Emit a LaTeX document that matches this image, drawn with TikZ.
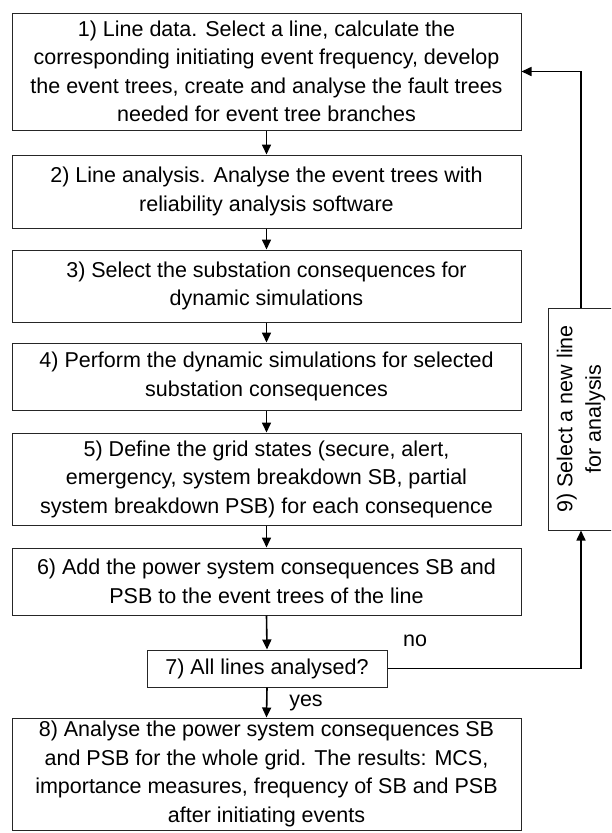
\documentclass[tikz,border=0pt]{standalone}
\usepackage{fontspec}
\setmainfont{Liberation Sans}
\usetikzlibrary{arrows.meta}
\begin{document}
\begin{tikzpicture}[x=1pt,y=-1pt,
  boxline/.style={draw=black!85, line width=1pt},
  stepbox/.style={boxline, align=center, inner sep=0pt,
    font=\fontsize{21.5}{28.5}\selectfont},
  flow/.style={line width=1.6pt, -{Triangle[length=10pt,width=9pt]}},
  lbl/.style={font=\fontsize{21.5}{26}\selectfont, inner sep=0pt}]
\useasboundingbox (0,0) rectangle (611,833);
\clip (0,0) rectangle (611,833);

% main sequence of steps
\node[stepbox, minimum width=509pt, minimum height=117pt] (s1) at (266.5,71.5)
  {1) Line data. Select a line, calculate the\\
   corresponding initiating event frequency, develop\\
   the event trees, create and analyse the fault trees\\
   needed for event tree branches};
\node[stepbox, minimum width=509pt, minimum height=73pt] (s2) at (266.5,191.5)
  {2) Line analysis. Analyse the event trees with\\
   reliability analysis software};
\node[stepbox, minimum width=509pt, minimum height=72pt] (s3) at (266.5,286)
  {3) Select the substation consequences for\\
   dynamic simulations};
\node[stepbox, minimum width=509pt, minimum height=67pt] (s4) at (266.5,376.5)
  {4) Perform the dynamic simulations for selected\\
   substation consequences};
\node[stepbox, minimum width=509pt, minimum height=92pt] (s5) at (266.5,479)
  {5) Define the grid states (secure, alert,\\
   emergency, system breakdown SB, partial\\
   system breakdown PSB) for each consequence};
\node[stepbox, minimum width=509pt, minimum height=67pt] (s6) at (266.5,581.5)
  {6) Add the power system consequences SB and\\
   PSB to the event trees of the line};
\node[stepbox, minimum width=240pt, minimum height=37pt] (s7) at (267,668.5)
  {7) All lines analysed?};
\node[stepbox, minimum width=509pt, minimum height=112pt] (s8) at (266.5,774)
  {8) Analyse the power system consequences SB\\
   and PSB for the whole grid. The results: MCS,\\
   importance measures, frequency of SB and PSB\\
   after initiating events};

% loop-back step, text reading upwards; the box runs off the right edge
\node[stepbox, draw=none, rotate=90, minimum width=222pt, minimum height=66pt] (s9) at (581,419)
  {9) Select a new line\\ for analysis};
\coordinate (s9tl) at (548,308);
\coordinate (s9bl) at (548,530);
\draw[boxline] (s9tl -| 640,0) -- (s9tl) -- (s9bl) -- (s9bl -| 640,0);

% decision labels
\node[lbl] (no) at (415,641) {no};
\node[lbl] (yes) at (306,703) {yes};

% connectors
\draw[flow] (s1.south) -- (s2.north);
\draw[flow] (s2.south) -- (s3.north);
\draw[flow] (s3.south) -- (s4.north);
\draw[flow] (s4.south) -- (s5.north);
\draw[flow] (s5.south) -- (s6.north);
\draw[flow] (s6.south) -- (s7.north);
\draw[flow] (s7.south) -- (s8.north);
\draw[flow] (s7.east) -| (s9.west);
\draw[flow] (s9.east) |- (s1.east);
\end{tikzpicture}
\end{document}
